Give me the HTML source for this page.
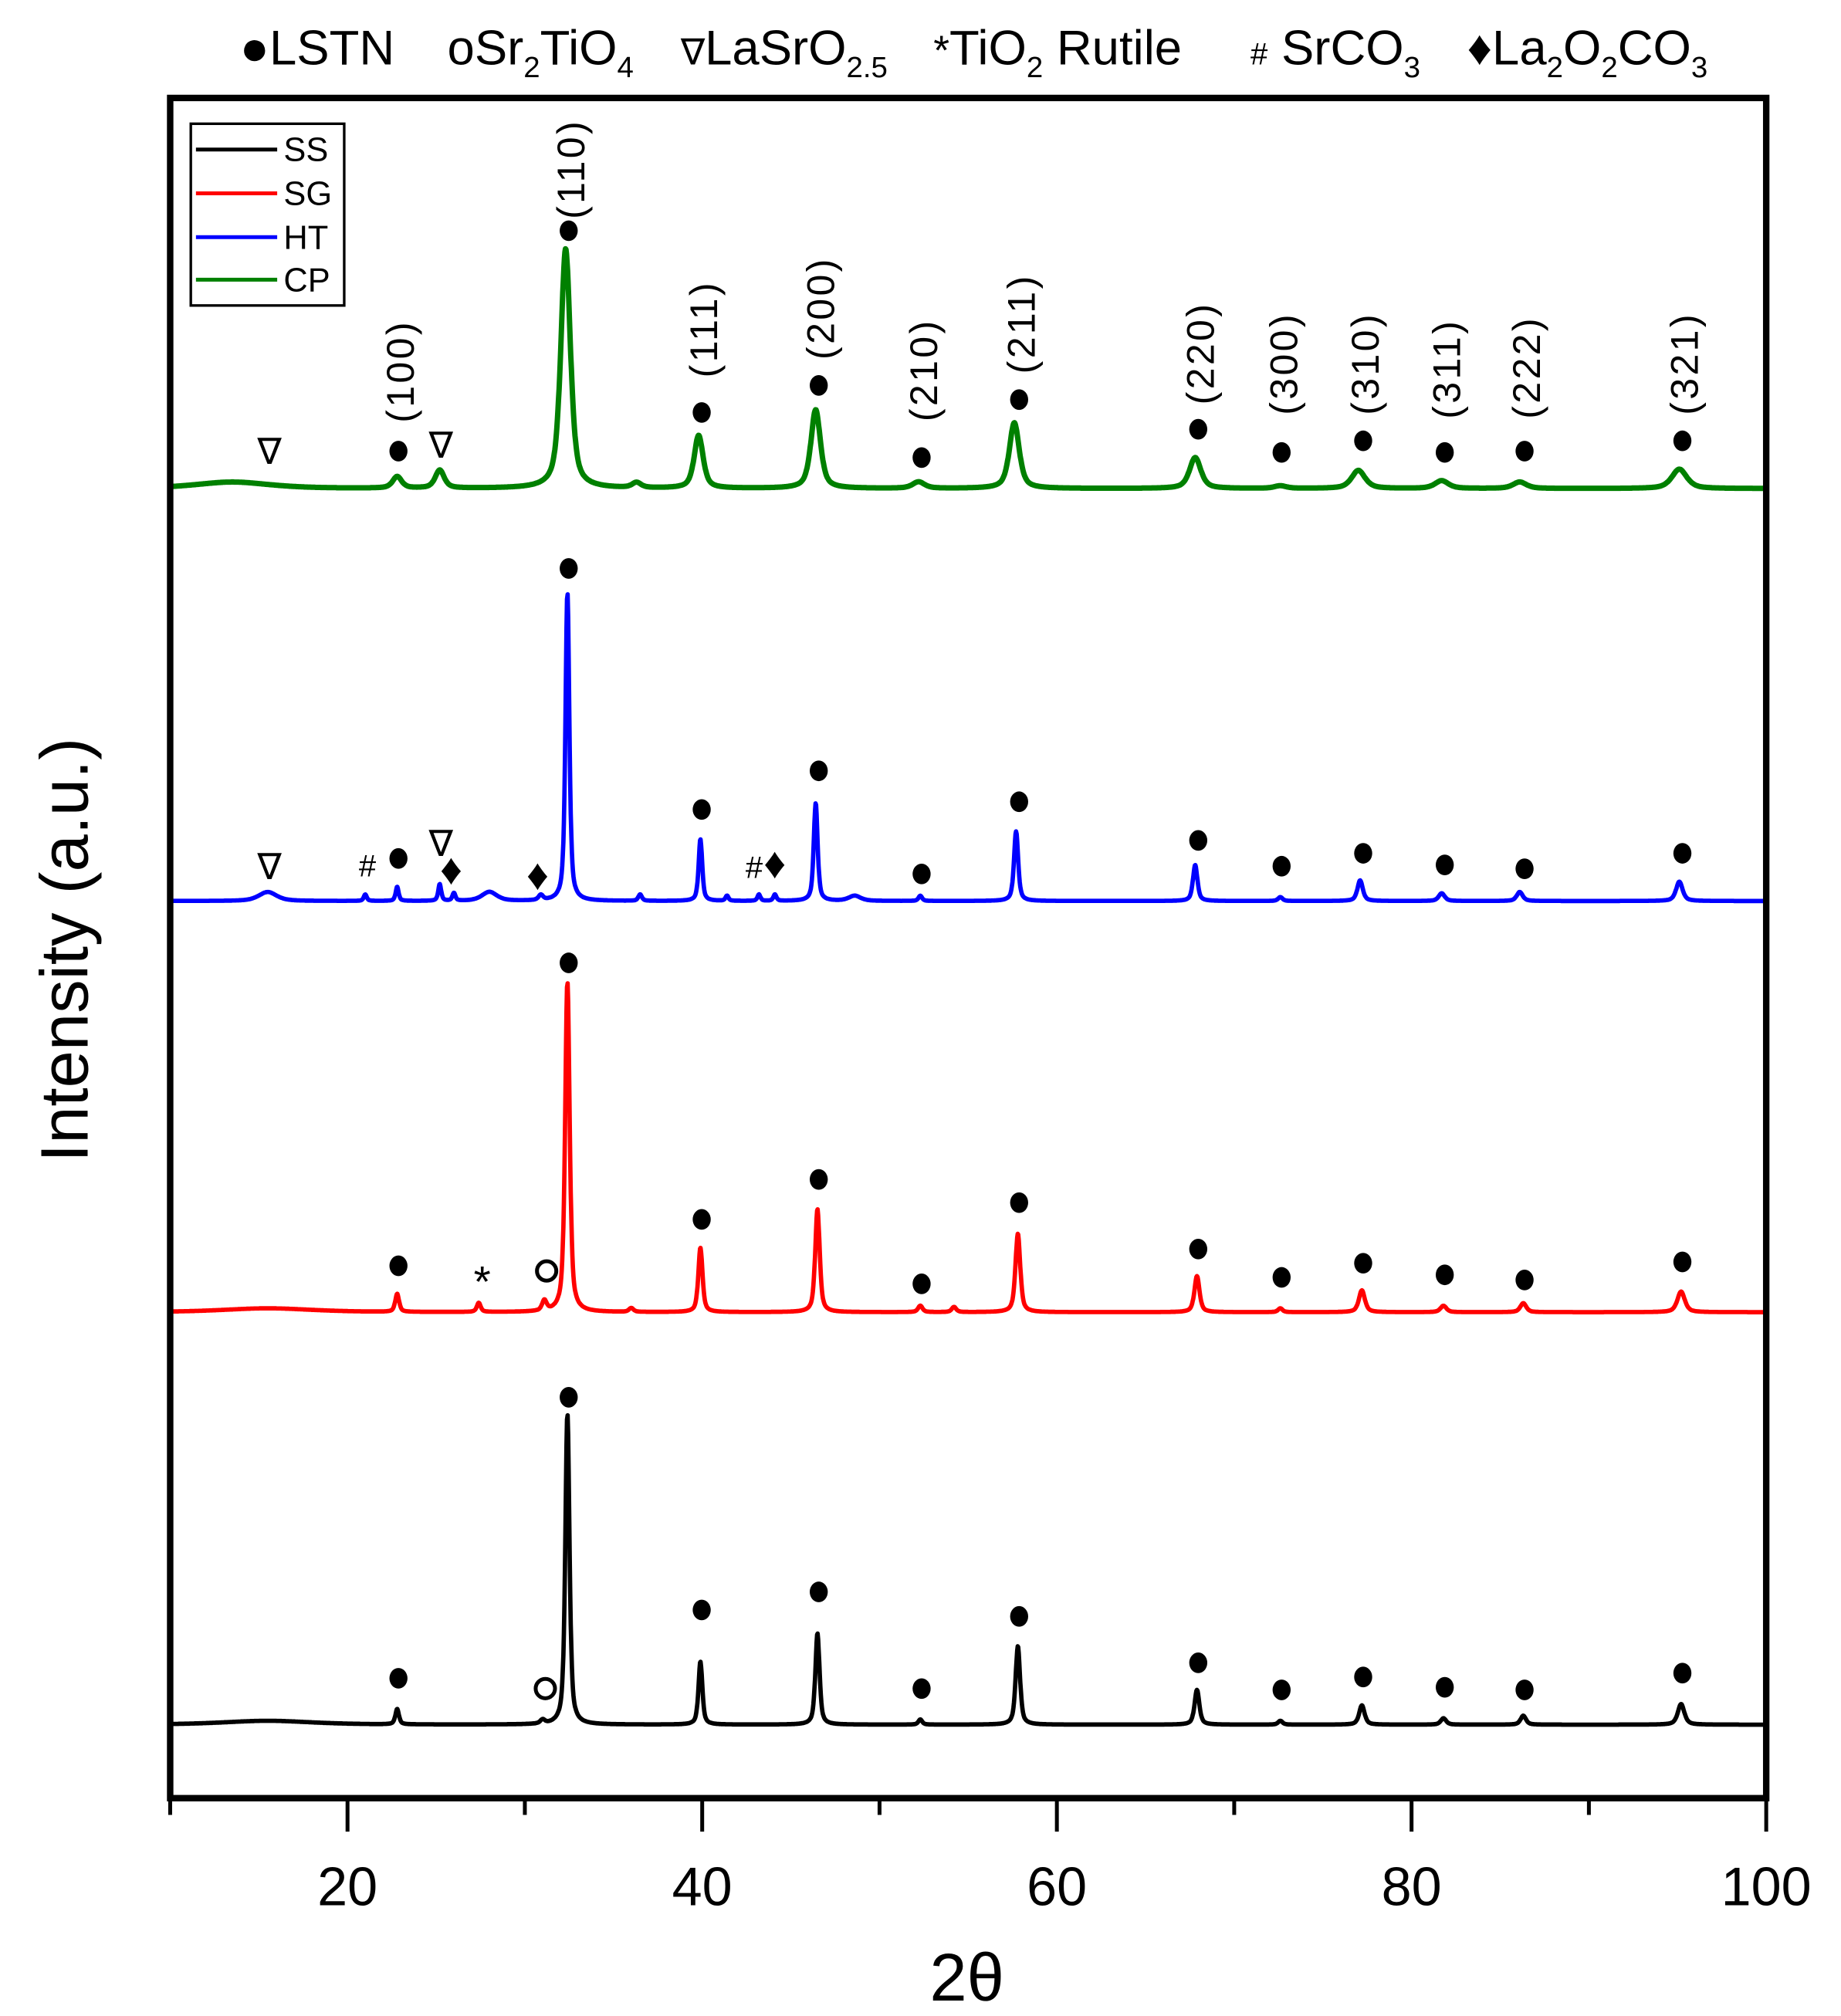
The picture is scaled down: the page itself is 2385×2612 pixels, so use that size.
<!DOCTYPE html>
<html><head><meta charset="utf-8"><style>
html,body{margin:0;padding:0;background:#fff;}
svg{display:block;font-family:"Liberation Sans",sans-serif;}
</style></head><body>
<svg id="chart" width="2385" height="2612" viewBox="0 0 1428 1564" preserveAspectRatio="none" xmlns="http://www.w3.org/2000/svg">
<g id="top-legend" font-size="38" fill="#000">
 <text x="186" y="50">●LSTN</text>
 <text x="347" y="50">oSr<tspan font-size="23" dy="10">2</tspan><tspan dy="-10">TiO</tspan><tspan font-size="23" dy="10">4</tspan></text>
 <text x="528" y="50"><tspan font-size="28">∇</tspan>LaSrO<tspan font-size="23" dy="10">2.5</tspan></text>
 <text x="724" y="50"><tspan font-size="32">*</tspan>TiO<tspan font-size="23" dy="10">2</tspan><tspan dy="-10"> Rutile</tspan></text>
 <text x="970" y="50"><tspan font-size="24">#</tspan> SrCO<tspan font-size="23" dy="10">3</tspan></text>
 <text x="1138" y="50">♦La<tspan font-size="23" dy="10">2</tspan><tspan dy="-10">O</tspan><tspan font-size="23" dy="10">2</tspan><tspan dy="-10">CO</tspan><tspan font-size="23" dy="10">3</tspan></text>
</g>
<g id="series"></g>
<g id="marks"></g>
<rect x="132" y="76" width="1238" height="1319" fill="none" stroke="#000" stroke-width="5"/>
<g id="xaxis"></g>
<text x="750" y="1552" font-size="52" text-anchor="middle">2θ</text>
<text transform="translate(68,737) rotate(-90)" font-size="52" text-anchor="middle">Intensity (a.u.)</text>
<g>
 <rect x="148" y="96" width="119" height="141" fill="#fff" stroke="#000" stroke-width="2"/>
 <line x1="152" y1="116" x2="215" y2="116" stroke="#000" stroke-width="3"/>
 <text x="220" y="125" font-size="26">SS</text>
 <line x1="152" y1="150" x2="215" y2="150" stroke="#f00" stroke-width="3"/>
 <text x="220" y="159" font-size="26">SG</text>
 <line x1="152" y1="184" x2="215" y2="184" stroke="#00f" stroke-width="3"/>
 <text x="220" y="193" font-size="26">HT</text>
 <line x1="152" y1="217" x2="215" y2="217" stroke="#008000" stroke-width="3"/>
 <text x="220" y="226" font-size="26">CP</text>
</g>
</svg>
<script>
// ---- data ----
const xTicks=[20,40,60,80,100];
const xMinorTicks=[10,30,50,70,90];
const ssPos=[15.5,22.8,31.0,32.4,39.9,46.5,52.3,57.8,67.9,72.6,77.2,81.8,86.3,95.2];
const ssHeight=[3,12,3,241,49,71,4,61,27,3,15,5,7,16];
const ssWidth=[3,0.12,0.15,0.14,0.13,0.14,0.13,0.15,0.16,0.15,0.18,0.18,0.18,0.22];
const sgPos=[15.5,22.8,27.4,31.1,32.4,36.0,39.9,46.5,52.3,54.2,57.8,67.9,72.6,77.2,81.8,86.3,95.2];
const sgHeight=[3,14,7,8,256,3,50,80,5,4,61,28,3,17,5,7,16];
const sgWidth=[3,0.13,0.13,0.15,0.15,0.15,0.14,0.15,0.15,0.15,0.16,0.17,0.15,0.2,0.2,0.2,0.25];
const htPos=[15.5,21.0,22.8,25.2,26.0,28.0,30.9,32.4,36.5,39.9,41.4,43.2,44.1,46.4,48.6,52.3,57.7,67.8,72.6,77.1,81.7,86.1,95.1];
const htHeight=[7,5,11,13,6,7,4,239,5,48,4,5,5,76,4,4,54,28,3,16,6,7,15];
const htWidth=[0.6,0.1,0.1,0.1,0.1,0.5,0.15,0.13,0.12,0.12,0.1,0.1,0.1,0.13,0.4,0.12,0.14,0.15,0.15,0.18,0.2,0.2,0.22];
const cpPos=[13.5,22.8,25.2,32.3,36.3,39.8,46.4,52.2,57.6,67.8,72.6,77.0,81.7,86.1,95.1];
const cpHeight=[5,9,14,186,4,41,61,5,51,24,2,14,6,5,15];
const cpWidth=[2.5,0.3,0.3,0.32,0.3,0.3,0.32,0.4,0.33,0.38,0.4,0.45,0.45,0.45,0.5];
const lstnPos=[22.8,32.4,39.9,46.5,52.3,57.8,67.9,72.6,77.2,81.8,86.3,95.2];
const lstnAbove=[[24,13,40,32,24,23,21,24,22,24,20,24],[22,15,22,23,17,24,21,24,21,24,18,23],[22,19,23,25,17,23,19,24,21,22,18,22],[20,14,18,19,19,18,22,26,23,22,24,22]];
const millerLabels=["(100)","(110)","(111)","(200)","(210)","(211)","(220)","(300)","(310)","(311)","(222)","(321)"];
const millerBottom=[328,170,293,279,327,290,314,322,322,325,325,322];
// ---- axes ----
const X0=10,X1=100,PX0=132,PX1=1370;
const xs=v=>PX0+(v-X0)/(X1-X0)*(PX1-PX0);
const bases=[1338,1018,699,379];
const ys=(h,b)=>b-h;
const NS="http://www.w3.org/2000/svg";
function mk(tag,attrs,parent){const e=document.createElementNS(NS,tag);for(const k in attrs)e.setAttribute(k,attrs[k]);parent.appendChild(e);return e;}
const gx=document.getElementById('xaxis');
xTicks.forEach(t=>{
 const l=mk('line',{x1:xs(t),x2:xs(t),y1:1395,y2:1421,stroke:'#000','stroke-width':3},gx);
 
 
 const tx=mk('text',{x:xs(t),y:1478,'font-size':42,'text-anchor':'middle'},gx);
 tx.textContent=t;
 
 
});
xMinorTicks.forEach(t=>{
 const l=mk('line',{x1:xs(t),x2:xs(t),y1:1395,y2:1408,stroke:'#000','stroke-width':3},gx);
 
 
});
// ---- series ----
const gs=document.getElementById('series');
const series=[[ssPos,ssHeight,ssWidth,'#000','ss-line'],[sgPos,sgHeight,sgWidth,'#f00','sg-line'],[htPos,htHeight,htWidth,'#00f','ht-line'],[cpPos,cpHeight,cpWidth,'#008000','cp-line']];
series.forEach((s,i)=>{
 const [P,H,W,c,name]=s;let d='';
 for(let x=10;x<=100.001;x+=0.03){
  let y=0;
  for(let k=0;k<P.length;k++){const u=(x-P[k])/W[k];y+=H[k]*(0.6/(1+u*u)+0.4*Math.exp(-u*u*0.693));}
  d+=(d?'L':'M')+xs(x).toFixed(1)+','+ys(y,bases[i]).toFixed(1);
 }
 const p=mk('path',{d:d,fill:'none',stroke:c,'stroke-width':i==3?4.2:3.4,'stroke-linejoin':'round'},gs);
 
 
});
// ---- markers ----
const gm=document.getElementById('marks');
const lstnHeights=[[12,241,49,71,4,61,27,3,15,5,7,16],[14,256,50,80,5,61,28,3,17,5,7,16],[11,239,48,76,4,54,28,3,16,6,7,15],[9,186,41,61,5,51,24,2,14,6,5,15]];
for(let s=0;s<4;s++){
 lstnPos.forEach((p,k)=>{
  const c=mk('ellipse',{cx:xs(p)+1,cy:ys(lstnHeights[s][k]+lstnAbove[s][k],bases[s]),rx:7,ry:8,fill:'#000'},gm);
  
  
 });
}
millerLabels.forEach((t,k)=>{
 const x=xs(lstnPos[k])+13;
 const tx=mk('text',{transform:`translate(${x},${millerBottom[k]}) rotate(-90)`,'font-size':30,'letter-spacing':'2'},gm);
 tx.textContent=t;
 
 
});
function sym(ch,x,y,size,name){
 const tx=mk('text',{x:x,y:y,'font-size':size,'text-anchor':'middle'},gm);
 tx.textContent=ch;
 
 
}
sym('∇',209,360,28,'lasro-marker');sym('∇',342,355,28,'lasro-marker');
sym('∇',209,682,28,'lasro-marker');sym('∇',342,664,28,'lasro-marker');
sym('#',285,680,24,'srco3-marker');sym('#',585,681,24,'srco3-marker');
sym('♦',350,686,34,'la2o2co3-marker');sym('♦',417,690,34,'la2o2co3-marker');sym('♦',601,681,34,'la2o2co3-marker');
sym('*',374,1006,34,'tio2-marker');
const o1=mk('circle',{cx:424,cy:986,r:7.5,fill:'none',stroke:'#000','stroke-width':3},gm);


const o2=mk('circle',{cx:423,cy:1310,r:7.5,fill:'none',stroke:'#000','stroke-width':3},gm);


</script>
</body></html>
